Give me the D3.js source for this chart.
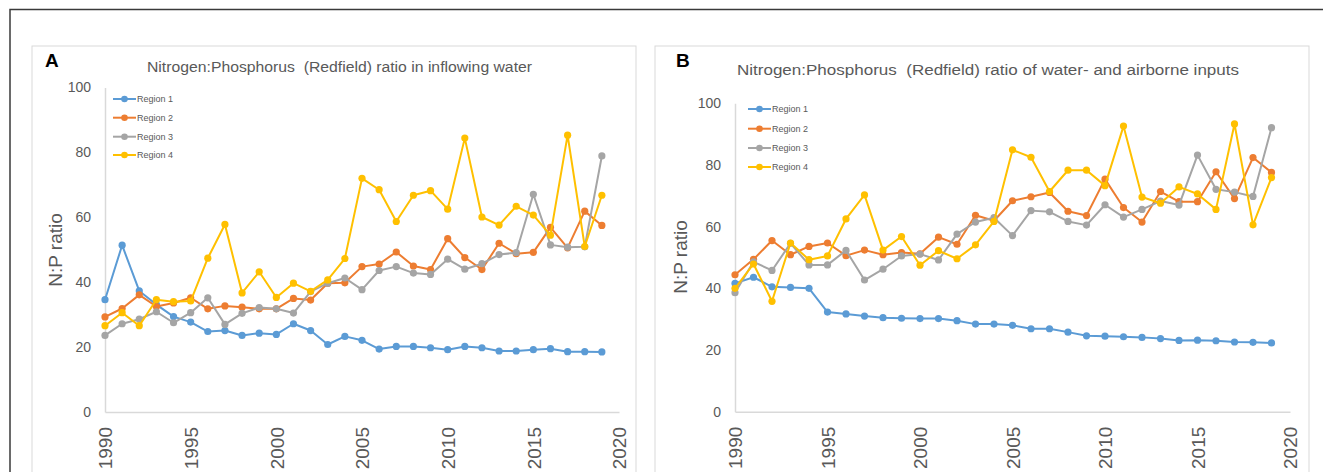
<!DOCTYPE html>
<html>
<head>
<meta charset="utf-8">
<script src="https://cdn.jsdelivr.net/npm/d3@7"></script>
<style>
  body { margin: 0; background: #fff; }
  svg { display: block; font-family: "Liberation Sans", Arial, sans-serif; }
</style>
</head>
<body>
<svg width="1323" height="472"></svg>
<script>
// years on the x axis
var years = [1990,1991,1992,1993,1994,1995,1996,1997,1998,1999,2000,2001,2002,2003,2004,
  2005,2006,2007,2008,2009,2010,2011,2012,2013,2014,2015,2016,2017,2018,2019];
var regions = ["Region 1", "Region 2", "Region 3", "Region 4"];
var colors = ["#5B9BD5", "#ED7D31", "#A5A5A5", "#FFC000"];
var yTicks = [0, 20, 40, 60, 80, 100];
var xTicks = [1990, 1995, 2000, 2005, 2010, 2015, 2020];

// panel A: inflowing water
var a_region1 = [34.6,51.4,37.3,33.1,29.4,27.7,24.8,25.1,23.6,24.3,23.9,27.2,25.1,20.8,23.3,
  22.1,19.4,20.2,20.2,19.8,19.2,20.2,19.8,18.8,18.8,19.2,19.5,18.6,18.6,18.5];
var a_region2 = [29.3,31.9,36.1,32.5,33.6,35.2,31.8,32.7,32.3,31.8,31.8,35.0,34.5,39.7,39.8,
  44.8,45.6,49.3,45.0,43.9,53.4,47.6,43.9,52.0,48.8,49.2,56.9,50.6,61.9,57.5];
var a_region3 = [23.6,27.2,28.6,30.9,27.5,30.6,35.2,27.0,30.4,32.2,31.8,30.5,37.1,39.7,41.3,
  37.7,43.6,44.8,42.8,42.4,47.1,44.0,45.7,48.5,49.1,67.1,51.5,50.8,50.9,78.9];
var a_region4 = [26.6,30.6,26.6,34.6,34.0,34.2,47.4,57.8,36.7,43.2,35.3,39.7,37.2,40.7,47.3,
  72.0,68.5,58.7,66.8,68.2,62.5,84.4,60.1,57.6,63.4,60.7,54.5,85.3,51.0,66.8];

// panel B: water- and airborne inputs
var b_region1 = [41.6,43.6,40.5,40.3,40.0,32.3,31.7,31.0,30.5,30.3,30.2,30.2,29.5,28.4,28.4,
  28.0,26.9,26.9,25.8,24.6,24.5,24.3,24.1,23.7,23.1,23.2,23.0,22.6,22.5,22.3];
var b_region2 = [44.4,49.4,55.5,50.9,53.6,54.7,50.6,52.4,50.9,51.6,51.2,56.6,54.3,63.7,61.9,
  68.4,69.7,71.1,65.0,63.6,75.4,66.2,61.5,71.4,68.1,68.1,77.8,69.1,82.4,77.6];
var b_region3 = [38.6,48.6,45.8,54.6,47.6,47.6,52.3,42.7,46.2,50.5,51.1,49.2,57.6,61.5,62.9,
  57.1,65.2,64.8,61.7,60.5,67.1,63.1,65.6,68.3,67.0,83.2,72.1,71.2,69.8,92.1];
var b_region4 = [40.0,47.9,35.8,54.7,49.3,50.5,62.5,70.3,52.4,56.8,47.5,52.2,49.6,54.1,61.7,
  84.9,82.5,71.4,78.3,78.3,73.3,92.6,69.6,67.6,72.9,70.6,65.6,93.3,60.6,75.9];

var svg = d3.select("svg");
var txt = "#595959", axisCol = "#d9d9d9";

// outer figure frame (left and top edges)
svg.append("path").attr("d", "M10,472 V9.5 H1323")
  .attr("fill", "none").attr("stroke", "#3a3a3a").attr("stroke-width", 1.5);

var panels = [
  {letter: "A", title: "Nitrogen:Phosphorus  (Redfield) ratio in inflowing water",
   box: [32, 46, 636, 480], titleX: 147, titleY: 72, titleW: 385, letterX: 45, letterY: 67,
   x0: 105, x1: 619, y0: 412, y1: 87.5, ytitleX: 55, ytitleY: 250,
   legX: 113, legY: [99, 117.7, 136.7, 155],
   series: [a_region1, a_region2, a_region3, a_region4]},
  {letter: "B", title: "Nitrogen:Phosphorus  (Redfield) ratio of water- and airborne inputs",
   box: [655, 46, 1309, 480], titleX: 737, titleY: 75, titleW: 502, letterX: 676, letterY: 67,
   x0: 735, x1: 1290, y0: 411.7, y1: 103.3, ytitleX: 680, ytitleY: 257,
   legX: 748, legY: [109, 128.7, 148, 167],
   series: [b_region1, b_region2, b_region3, b_region4]}
];

panels.forEach(function(p) {
  var g = svg.append("g");
  g.append("rect")
    .attr("x", p.box[0]).attr("y", p.box[1])
    .attr("width", p.box[2] - p.box[0]).attr("height", p.box[3] - p.box[1])
    .attr("fill", "#fff").attr("stroke", "#d9d9d9").attr("stroke-width", 1);

  g.append("text").attr("x", p.letterX).attr("y", p.letterY)
    .attr("font-size", 19).attr("font-weight", "bold").attr("fill", "#000")
    .text(p.letter);

  var t = g.append("text").attr("x", p.titleX).attr("y", p.titleY)
    .attr("font-size", 15.5).attr("fill", txt).style("white-space", "pre")
    .text(p.title);
  t.attr("textLength", p.titleW).attr("lengthAdjust", "spacingAndGlyphs");

  var x = d3.scaleLinear().domain([1990, 2020]).range([p.x0, p.x1]);
  var y = d3.scaleLinear().domain([0, 100]).range([p.y0, p.y1]);

  // y axis
  var ya = g.append("g").attr("transform", "translate(" + p.x0 + ",0)")
    .call(d3.axisLeft(y).tickValues(yTicks).tickSize(0).tickPadding(14));
  ya.select(".domain").attr("stroke", axisCol).attr("stroke-width", 1.5);
  ya.selectAll("text").attr("font-size", 14).attr("fill", txt)
    .attr("font-family", "Liberation Sans, Arial, sans-serif");

  // x axis
  var xa = g.append("g").attr("transform", "translate(0," + p.y0 + ")")
    .call(d3.axisBottom(x).tickValues(xTicks).tickSize(0).tickFormat(d3.format("d")));
  xa.select(".domain").attr("stroke", axisCol).attr("stroke-width", 1.5);
  xa.selectAll("text")
    .attr("transform", "rotate(-90)")
    .attr("x", -15).attr("y", 0).attr("dy", "0.36em")
    .style("text-anchor", "end")
    .attr("font-size", 19).attr("fill", txt)
    .attr("font-family", "Liberation Sans, Arial, sans-serif");

  // y axis title
  g.append("text")
    .attr("transform", "translate(" + p.ytitleX + "," + p.ytitleY + ") rotate(-90)")
    .attr("text-anchor", "middle").attr("dy", "0.35em")
    .attr("font-size", 19).attr("fill", txt)
    .text("N:P ratio");

  var line = d3.line()
    .x(function(d, i) { return x(years[i]); })
    .y(function(d) { return y(d); });

  p.series.forEach(function(s, k) {
    var sg = g.append("g");
    sg.append("path").datum(s)
      .attr("d", line)
      .attr("fill", "none").attr("stroke", colors[k]).attr("stroke-width", 2)
      .attr("stroke-linejoin", "round");
    sg.selectAll("circle").data(s).enter().append("circle")
      .attr("cx", function(d, i) { return x(years[i]); })
      .attr("cy", function(d) { return y(d); })
      .attr("r", 3.6)
      .attr("fill", colors[k]);
  });

  // legend
  regions.forEach(function(r, k) {
    var ly = p.legY[k];
    g.append("line").attr("x1", p.legX).attr("x2", p.legX + 23)
      .attr("y1", ly).attr("y2", ly)
      .attr("stroke", colors[k]).attr("stroke-width", 2);
    g.append("circle").attr("cx", p.legX + 11.5).attr("cy", ly).attr("r", 3.3)
      .attr("fill", colors[k]);
    g.append("text").attr("x", p.legX + 24).attr("y", ly).attr("dy", "0.35em")
      .attr("font-size", 9).attr("fill", txt).text(r);
  });
});
</script>
</body>
</html>
